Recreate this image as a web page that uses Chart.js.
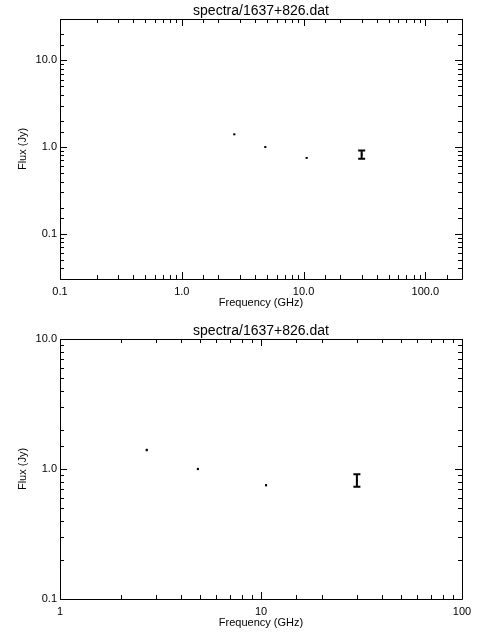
<!DOCTYPE html>
<html lang="en">
<head>
    <meta charset="UTF-8">
    <title>spectra/1637+826.dat</title>
    <script src="https://cdn.jsdelivr.net/npm/chart.js"></script>
    <style>
        body { margin: 0; background: #fff; }
        .painel { position: absolute; left: 0; width: 480px; height: 320px; }
    </style>
</head>
<body>
    <div class="painel" style="top: 0;"><canvas id="graficoCima" width="480" height="320"></canvas></div>
    <div class="painel" style="top: 320px;"><canvas id="graficoBaixo" width="480" height="320"></canvas></div>

<script>
    // dados
    const titulo = 'spectra/1637+826.dat'
    const frequencia = [2.7, 4.85, 10.6, 30.0]      // GHz
    const fluxo = [1.40, 1.00, 0.75, 0.82]          // Jy
    const erroFluxo = [0.03, 0.02, 0.015, 0.09]

    // faixas dos eixos
    const cimaX = [0.1, 200]
    const cimaY = [0.03, 30]
    const baixoX = [1, 100]
    const baixoY = [0.1, 10]

    // rotulos das decadas
    const cimaXTicks = [0.1, 1, 10, 100]
    const cimaXLabels = ['0.1', '1.0', '10.0', '100.0']
    const cimaYTicks = [0.1, 1, 10]
    const cimaYLabels = ['0.1', '1.0', '10.0']
    const baixoXTicks = [1, 10, 100]
    const baixoXLabels = ['1', '10', '100']
    const baixoYTicks = [0.1, 1, 10]
    const baixoYLabels = ['0.1', '1.0', '10.0']

    function rotulo(valor, ticks, labels) {
        for (let i = 0; i < ticks.length; i++) {
            if (Math.abs(Math.log10(valor) - Math.log10(ticks[i])) < 1e-6) return labels[i]
        }
        return ''
    }

    function ehDecada(v) {
        const l = Math.log10(v)
        return Math.abs(l - Math.round(l)) < 1e-6
    }

    // moldura com tracos para dentro, estilo IDL
    const moldura = {
        id: 'moldura',
        afterDatasetsDraw(chart) {
            const ctx = chart.ctx
            const a = chart.chartArea
            const x = chart.scales.x
            const y = chart.scales.y
            ctx.save()
            ctx.strokeStyle = '#000'
            ctx.lineWidth = 1
            ctx.beginPath()
            ctx.rect(Math.round(a.left) + 0.5, Math.round(a.top) + 0.5, Math.round(a.right - a.left), Math.round(a.bottom - a.top))
            x.ticks.forEach(function (t) {
                const px = Math.round(x.getPixelForValue(t.value)) + 0.5
                const len = ehDecada(t.value) ? 7 : 4
                ctx.moveTo(px, a.bottom); ctx.lineTo(px, a.bottom - len)
                ctx.moveTo(px, a.top); ctx.lineTo(px, a.top + len)
            })
            y.ticks.forEach(function (t) {
                const py = Math.round(y.getPixelForValue(t.value)) + 0.5
                const len = ehDecada(t.value) ? 7 : 4
                ctx.moveTo(a.left, py); ctx.lineTo(a.left + len, py)
                ctx.moveTo(a.right, py); ctx.lineTo(a.right - len, py)
            })
            ctx.stroke()
            ctx.restore()
        }
    }

    // barras de erro
    const barrasErro = {
        id: 'barrasErro',
        afterDatasetsDraw(chart) {
            const ctx = chart.ctx
            const x = chart.scales.x
            const y = chart.scales.y
            ctx.save()
            ctx.strokeStyle = '#000'
            ctx.lineWidth = 2
            for (let i = 0; i < frequencia.length; i++) {
                const px = x.getPixelForValue(frequencia[i])
                const y1 = y.getPixelForValue(fluxo[i] + erroFluxo[i])
                const y2 = y.getPixelForValue(fluxo[i] - erroFluxo[i])
                ctx.beginPath()
                ctx.moveTo(px, y1); ctx.lineTo(px, y2)
                if (y2 - y1 > 5) {
                    ctx.moveTo(px - 3.5, y1); ctx.lineTo(px + 3.5, y1)
                    ctx.moveTo(px - 3.5, y2); ctx.lineTo(px + 3.5, y2)
                }
                ctx.stroke()
            }
            ctx.restore()
        }
    }

    const fonteEixo = { family: 'Liberation Sans', size: 11 }

    function criarGrafico(id, faixaX, faixaY, xTicks, xLabels, yTicks, yLabels) {
        const pontos = frequencia.map(function (f, i) { return { x: f, y: fluxo[i] } })
        return new Chart(document.getElementById(id), {
            type: 'scatter',
            data: {
                datasets: [{
                    data: pontos,
                    backgroundColor: '#000',
                    borderColor: '#000',
                    pointStyle: 'rect',
                    pointRadius: 1.2,
                    pointBorderWidth: 0
                }]
            },
            options: {
                responsive: false,
                animation: false,
                devicePixelRatio: 1,
                layout: { padding: { top: 0, right: 18, bottom: 0, left: 0 } },
                plugins: {
                    legend: { display: false },
                    tooltip: { enabled: false },
                    title: {
                        display: true,
                        text: titulo,
                        fullSize: false,
                        color: '#000',
                        font: { family: 'Liberation Sans', size: 14, weight: 'normal', lineHeight: 1.1 },
                        padding: { top: 3, bottom: 0.6 }
                    }
                },
                scales: {
                    x: {
                        type: 'logarithmic',
                        min: faixaX[0],
                        max: faixaX[1],
                        grid: { display: false, drawTicks: false },
                        border: { display: false },
                        ticks: {
                            autoSkip: false,
                            maxRotation: 0,
                            padding: 6,
                            color: '#000',
                            font: fonteEixo,
                            callback: function (v) { return rotulo(v, xTicks, xLabels) }
                        },
                        title: {
                            display: true,
                            text: 'Frequency (GHz)',
                            color: '#000',
                            font: fonteEixo,
                            padding: { top: 0, bottom: 10 }
                        },
                        afterFit: function (s) {
                            s.height = 41
                            s.paddingLeft = 0
                            s.paddingRight = 0
                        }
                    },
                    y: {
                        type: 'logarithmic',
                        min: faixaY[0],
                        max: faixaY[1],
                        grid: { display: false, drawTicks: false },
                        border: { display: false },
                        ticks: {
                            autoSkip: false,
                            padding: 3,
                            color: '#000',
                            font: fonteEixo,
                            callback: function (v) { return rotulo(v, yTicks, yLabels) }
                        },
                        title: {
                            display: true,
                            text: 'Flux (Jy)',
                            color: '#000',
                            font: fonteEixo,
                            padding: { top: 16, bottom: 0 }
                        },
                        afterFit: function (s) {
                            s.width = 60
                            s.paddingTop = 0
                            s.paddingBottom = 0
                        }
                    }
                }
            },
            plugins: [barrasErro, moldura]
        })
    }

    criarGrafico('graficoCima', cimaX, cimaY, cimaXTicks, cimaXLabels, cimaYTicks, cimaYLabels)
    criarGrafico('graficoBaixo', baixoX, baixoY, baixoXTicks, baixoXLabels, baixoYTicks, baixoYLabels)
</script>
</body>
</html>
